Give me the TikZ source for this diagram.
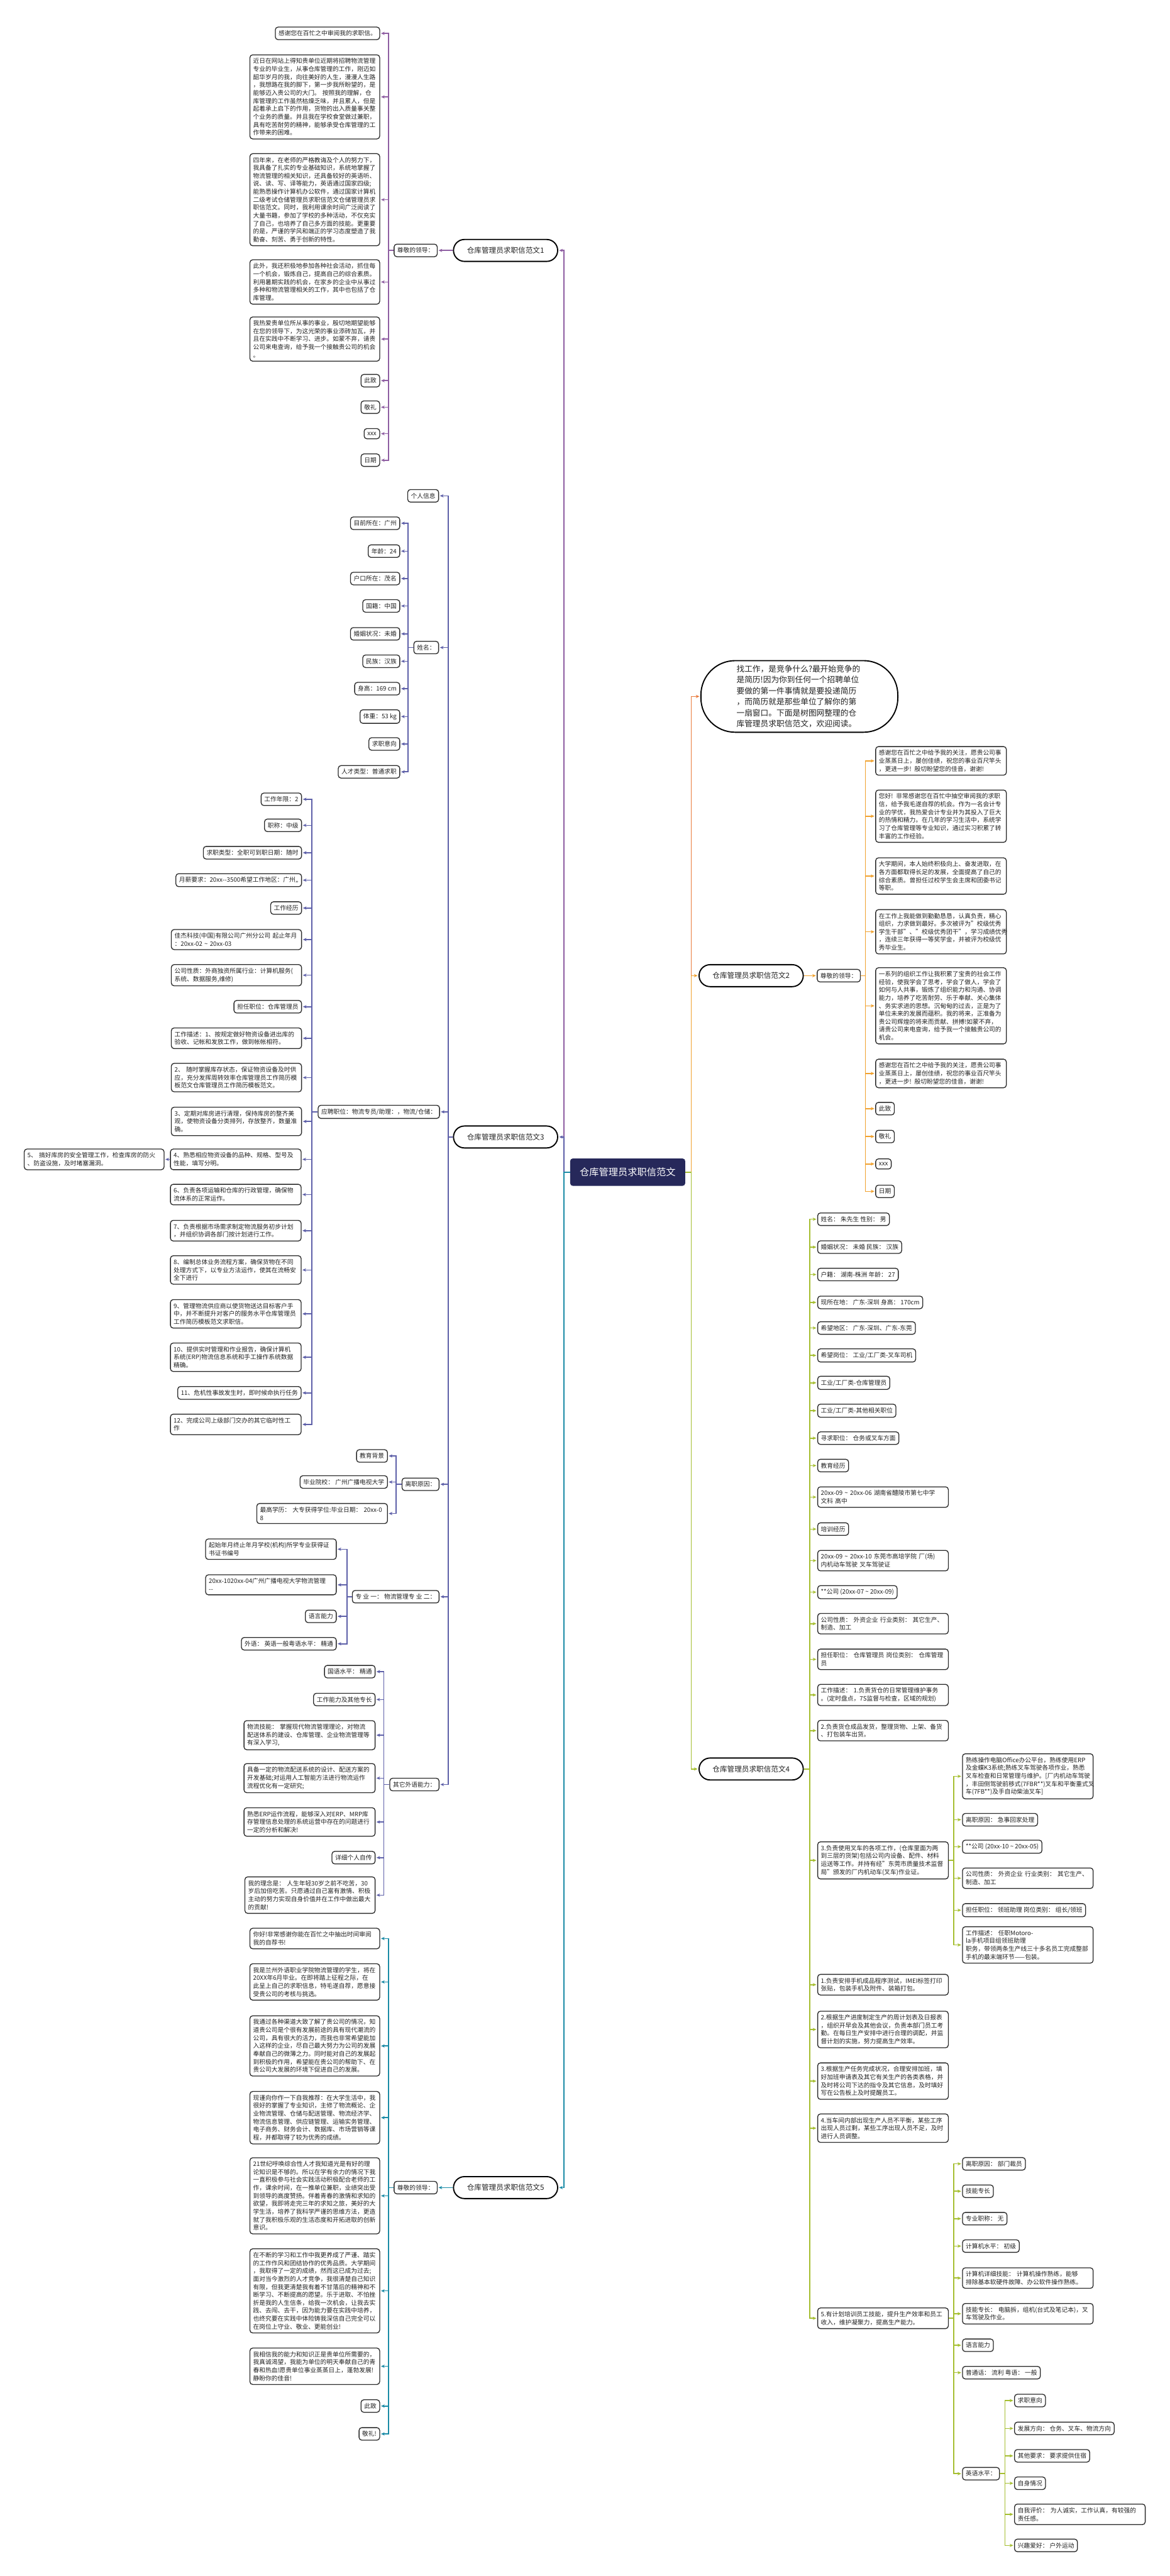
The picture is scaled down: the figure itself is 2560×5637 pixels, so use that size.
\documentclass[tikz,border=0pt]{standalone}
\usepackage{fontspec}
\setmainfont{Noto Sans CJK SC}
\usetikzlibrary{arrows.meta}
\definecolor{cone}{HTML}{8E5EA2}
\definecolor{cthree}{HTML}{5D5FA8}
\definecolor{cfive}{HTML}{1B8BA6}
\definecolor{cintro}{HTML}{E97A3C}
\definecolor{ctwo}{HTML}{F0A12E}
\definecolor{cfour}{HTML}{A5BE30}
\definecolor{navy}{HTML}{26285A}
\definecolor{txt}{HTML}{222222}
\definecolor{btxt}{HTML}{6B4A18}
\definecolor{bord}{HTML}{2A2A2A}
\newcommand\fs{\fontsize{13.4}{17.4}\selectfont}
\newcommand\tild{\textasciitilde}
\tikzset{
 box/.style={draw=bord, line width=1.8pt, rounded corners=6pt, fill=white, inner xsep=7pt, inner ysep=7.5pt, font=\fs, text=txt, align=left},
 pill/.style={draw=black, line width=2.6pt, rounded corners=24pt, fill=white, minimum height=48pt, minimum width=228pt, inner xsep=0pt, font=\fontsize{16}{18}\selectfont, text=txt},
 ctrnode/.style={fill=navy, rounded corners=6pt, minimum width=252pt, minimum height=60pt, text=white, font=\fontsize{21}{24}\selectfont},
 bubble/.style={draw=black, line width=2.6pt, fill=white, rounded corners=75pt, inner xsep=78pt, inner ysep=10pt, text width=275pt, align=left, font=\fontsize{17.5}{24}\selectfont, text=txt},
 conn/.style={line width=2.2pt, -{Stealth[length=8pt,width=7pt]}, shorten >=2pt},
 wide/.style={text width=270pt},
 wider/.style={text width=272pt},
}
\begin{document}
\begin{tikzpicture}[x=1pt,y=-1pt]
\useasboundingbox (0,0) rectangle (2560,5637);
\fill[white] (0,0) rectangle (2560,5637);

% ================= center
\node[ctrnode] (ctr) at (1374,2565) {仓库管理员求职信范文};

% ================= Branch 1
\node[pill,anchor=east] (b1) at (1222,548) {仓库管理员求职信范文1};
\node[box,anchor=east] (b1r) at (958,548) {尊敬的领导：};
\node[box,anchor=east] (a1) at (832,73) {感谢您在百忙之中审阅我的求职信。};
\node[box,anchor=east,wide] (a2) at (832,212) {近日在网站上得知贵单位近期将招聘物流管理\\专业的毕业生，从事仓库管理的工作，刚迈如\\韶华岁月的我，向往美好的人生，漫漫人生路\\，我想路在我的脚下，第一步我所盼望的，是\\能够迈入贵公司的大门。 按照我的理解，仓\\库管理的工作虽然枯燥乏味，并且累人，但是\\起着承上启下的作用，货物的出入质量事关整\\个业务的质量。并且我在学校食堂做过兼职，\\具有吃苦耐劳的精神，能够承受仓库管理的工\\作带来的困难。};
\node[box,anchor=east,wide] (a3) at (832,437) {四年来，在老师的严格教诲及个人的努力下，\\我具备了扎实的专业基础知识，系统地掌握了\\物流管理的相关知识，还具备较好的英语听、\\说、读、写、译等能力，英语通过国家四级;\\能熟悉操作计算机办公软件，通过国家计算机\\二级考试仓储管理员求职信范文仓储管理员求\\职信范文。同时，我利用课余时间广泛阅读了\\大量书籍，参加了学校的多种活动，不仅充实\\了自己，也培养了自己多方面的技能。更重要\\的是，严谨的学风和端正的学习态度塑造了我\\勤奋、刻苦、勇于创新的特性。};
\node[box,anchor=east,wide] (a4) at (832,617) {此外，我还积极地参加各种社会活动，抓住每\\一个机会，锻炼自己，提高自己的综合素质。\\利用暑期实践的机会，在家乡的企业中从事过\\多种和物流管理相关的工作，其中也包括了仓\\库管理。};
\node[box,anchor=east,wide] (a5) at (832,742) {我热爱贵单位所从事的事业，殷切地期望能够\\在您的领导下，为这光荣的事业添砖加瓦，并\\且在实践中不断学习、进步。如蒙不弃，请贵\\公司来电查询，给予我一个接触贵公司的机会\\。};
\node[box,anchor=east] (a6) at (832,833) {此致};
\node[box,anchor=east] (a7) at (832,891) {敬礼};
\node[box,anchor=east] (a8) at (832,949) {xxx};
\node[box,anchor=east] (a9) at (832,1007) {日期};
\draw[conn,cone] (ctr.west) -- ++(-13,0) |- (b1.east);
\draw[conn,cone] (b1.west) -- (b1r.east);
\foreach \n in {a1,a2,a3,a4,a5,a6,a7,a8,a9} \draw[conn,cone] (b1r.west) -- ++(-11,0) |- (\n.east);

% ================= Branch 3
\node[pill,anchor=east] (b3) at (1222,2488) {仓库管理员求职信范文3};
\node[box,anchor=east] (p1) at (961,1085) {个人信息};
\node[box,anchor=east] (p2) at (961,1417) {姓名：};
\node[box,anchor=east] (p3) at (963,2433) {应聘职位：物流专员/助理：，物流/仓储：};
\node[box,anchor=east] (p4) at (962,3248) {离职原因：};
\node[box,anchor=east] (p5) at (962,3494) {专 业 一： 物流管理专 业 二：};
\node[box,anchor=east] (p6) at (962,3905) {其它外语能力：};
\draw[conn,cthree] (ctr.west) -- ++(-13,0) |- (b3.east);
\foreach \n in {p1,p2,p3,p4,p5,p6} \draw[conn,cthree] (b3.west) -- ++(-10,0) |- (\n.east);

\node[box,anchor=east] (q1) at (876,1145) {目前所在：广州};
\node[box,anchor=east] (q2) at (876,1206) {年龄：24};
\node[box,anchor=east] (q3) at (876,1266) {户口所在：茂名};
\node[box,anchor=east] (q4) at (876,1326) {国籍：中国};
\node[box,anchor=east] (q5) at (876,1387) {婚姻状况：未婚};
\node[box,anchor=east] (q6) at (876,1447) {民族：汉族};
\node[box,anchor=east] (q7) at (876,1507) {身高：169 cm};
\node[box,anchor=east] (q8) at (876,1568) {体重：53 kg};
\node[box,anchor=east] (q9) at (876,1628) {求职意向};
\node[box,anchor=east] (q10) at (876,1689) {人才类型：普通求职};
\foreach \n in {q1,q2,q3,q4,q5,q6,q7,q8,q9,q10} \draw[conn,cthree] (p2.west) -- ++(-12,0) |- (\n.east);

\node[box,anchor=east] (s1) at (661,1749) {工作年限：2};
\node[box,anchor=east] (s2) at (661,1806) {职称：中级};
\node[box,anchor=east] (s3) at (661,1866) {求职类型：全职可到职日期：随时};
\node[box,anchor=east] (s4) at (661,1926) {月薪要求：20xx-{}-3500希望工作地区：广州,,};
\node[box,anchor=east] (s5) at (661,1987) {工作经历};
\node[box,anchor=east,text width=271pt] (s6) at (661,2056) {佳杰科技(中国)有限公司广州分公司 起止年月\\：20xx-02 \tild{} 20xx-03};
\node[box,anchor=east,text width=271pt] (s7) at (661,2134) {公司性质：外商独资所属行业：计算机服务(\\系统、数据服务,维修)};
\node[box,anchor=east] (s8) at (661,2203) {担任职位：仓库管理员};
\node[box,anchor=east,text width=271pt] (s9) at (661,2272) {工作描述：1、按规定做好物资设备进出库的\\验收、记帐和发放工作，做到帐帐相符。};
\node[box,anchor=east,text width=271pt] (s10) at (661,2358) {2、 随时掌握库存状态，保证物资设备及时供\\应，充分发挥周转效率仓库管理员工作简历模\\板范文仓库管理员工作简历模板范文。};
\node[box,anchor=east,text width=271pt] (s11) at (661,2454) {3、定期对库房进行清理，保持库房的整齐美\\观，使物资设备分类排列，存放整齐，数量准\\确。};
\node[box,anchor=east,text width=272pt] (s12) at (660,2537) {4、熟悉相应物资设备的品种、规格、型号及\\性能，填写分明。};
\node[box,anchor=east,text width=272pt] (s13) at (660,2614) {6、负责各项运输和仓库的行政管理，确保物\\流体系的正常运作。};
\node[box,anchor=east,text width=272pt] (s14) at (660,2693) {7、负责根据市场需求制定物流服务初步计划\\，并组织协调各部门按计划进行工作。};
\node[box,anchor=east,text width=272pt] (s15) at (660,2779) {8、编制总体业务流程方案，确保货物在不同\\处理方式下，以专业方法运作，使其在流畅安\\全下进行};
\node[box,anchor=east,text width=272pt] (s16) at (660,2875) {9、管理物流供应商以使货物送达目标客户手\\中，并不断提升对客户的服务水平仓库管理员\\工作简历模板范文求职信。};
\node[box,anchor=east,text width=272pt] (s17) at (660,2970) {10、提供实时管理和作业报告，确保计算机\\系统(ERP)物流信息系统和手工操作系统数据\\精确。};
\node[box,anchor=east] (s18) at (660,3048) {11、危机性事故发生时，即时候命执行任务};
\node[box,anchor=east,text width=272pt] (s19) at (660,3117) {12、完成公司上级部门交办的其它临时性工\\作};
\foreach \n in {s1,s2,s3,s4,s5,s6,s7,s8,s9,s10,s11,s12,s13,s14,s15,s16,s17,s18,s19} \draw[conn,cthree] (p3.west) -- ++(-13,0) |- (\n.east);

\node[box,anchor=east,text width=292pt] (fa) at (360,2537) {5、 搞好库房的安全管理工作，检查库房的防火\\、防盗设施，及时堵塞漏洞。};
\draw[conn,cthree] (s12.west) -- (fa.east);

\node[box,anchor=east] (t1) at (849,3186) {教育背景};
\node[box,anchor=east] (t2) at (849,3243) {毕业院校： 广州广播电视大学};
\node[box,anchor=east,text width=272pt] (t3) at (849,3312) {最高学历： 大专获得学位:毕业日期： 20xx-0\\8};
\foreach \n in {t1,t2,t3} \draw[conn,cthree] (p4.west) -- ++(-12,0) |- (\n.east);

\node[box,anchor=east,text width=272pt] (u1) at (737,3390) {起始年月终止年月学校(机构)所学专业获得证\\书证书编号};
\node[box,anchor=east,text width=272pt] (u2) at (737,3468) {20xx-1020xx-04广州广播电视大学物流管理\\-{}-};
\node[box,anchor=east] (u3) at (737,3537) {语言能力};
\node[box,anchor=east] (u4) at (737,3597) {外语： 英语一般粤语水平： 精通};
\foreach \n in {u1,u2,u3,u4} \draw[conn,cthree] (p5.west) -- ++(-11,0) |- (\n.east);

\node[box,anchor=east] (v1) at (822,3658) {国语水平： 精通};
\node[box,anchor=east] (v2) at (822,3719) {工作能力及其他专长};
\node[box,anchor=east,text width=273pt] (v3) at (822,3797) {物流技能： 掌握现代物流管理理论，对物流\\配送体系的建设、仓库管理、企业物流管理等\\有深入学习,};
\node[box,anchor=east,text width=273pt] (v4) at (822,3891) {具备一定的物流配送系统的设计、配送方案的\\开发基础;对运用人工智能方法进行物流运作\\流程优化有一定研究;};
\node[box,anchor=east,text width=273pt] (v5) at (822,3987) {熟悉ERP运作流程，能够深入对ERP、MRP库\\存管理信息处理的系统运营中存在的问题进行\\一定的分析和解决!};
\node[box,anchor=east] (v6) at (822,4065) {详细个人自传};
\node[box,anchor=east,text width=271pt] (v7) at (822,4147) {我的理念是： 人生年轻30岁之前不吃苦，30\\岁后加倍吃苦。只愿通过自己富有激情、积极\\主动的努力实现自身价值并在工作中做出最大\\的贡献!};
\foreach \n in {v1,v2,v3,v4,v5,v6,v7} \draw[conn,cthree] (p6.west) -- ++(-12,0) |- (\n.east);

% ================= Branch 5
\node[pill,anchor=east] (b5) at (1222,4787) {仓库管理员求职信范文5};
\node[box,anchor=east] (b5r) at (958,4787) {尊敬的领导：};
\node[box,anchor=east,wide] (w1) at (832,4242) {你好!非常感谢你能在百忙之中抽出时间审阅\\我的自荐书!};
\node[box,anchor=east,wide] (w2) at (832,4337) {我是兰州外语职业学院物流管理的学生，将在\\20XX年6月毕业。在即将踏上征程之际，在\\此呈上自己的求职信息，特毛遂自荐，愿意接\\受贵公司的考核与挑选。};
\node[box,anchor=east,wide] (w3) at (832,4477) {我通过各种渠道大致了解了贵公司的情况，知\\道贵公司是个很有发展前途的具有现代潮流的\\公司，具有很大的活力，而我也非常希望能加\\入这样的企业，尽自己最大努力为公司的发展\\奉献自己的微薄之力。同时能对自己的发展起\\到积极的作用，希望能在贵公司的帮助下、在\\贵公司大发展的环境下促进自己的发展。};
\node[box,anchor=east,wide] (w4) at (832,4634) {现谨向你作一下自我推荐：在大学生活中，我\\很好的掌握了专业知识，主修了物流概论、企\\业物流管理、仓储与配送管理、物流经济学、\\物流信息管理、供应链管理、运输实务管理、\\电子商务、财务会计、数据库、市场营销等课\\程，并都取得了较为优秀的成绩。};
\node[box,anchor=east,wide] (w5) at (832,4805) {21世纪呼唤综合性人才我知道光是有好的理\\论知识是不够的。所以在学有余力的情况下我\\一直积极参与社会实践活动积极配合老师的工\\作，课余时间，在一推单位兼职，业绩突出受\\到领导的高度赞扬。伴着青春的激情和求知的\\欲望，我即将走完三年的求知之旅，美好的大\\学生活，培养了我科学严谨的思维方法，更造\\就了我积极乐观的生活态度和开拓进取的创新\\意识。};
\node[box,anchor=east,wide] (w6) at (832,5013) {在不断的学习和工作中我更养成了严谨、踏实\\的工作作风和团结协作的优秀品质。大学期间\\，我取得了一定的成绩，然而这已成为过去;\\面对当今激烈的人才竞争，我很清楚自己知识\\有限，但我更清楚我有着不甘落后的精神和不\\断学习、不断提高的愿望。乐于进取、不怕挫\\折是我的人生信条，给我一次机会，让我去实\\践、去闯、去干，因为能力要在实践中培养，\\也终究要在实践中体险铸我深信自己完全可以\\在岗位上守业、敬业、更能创业!};
\node[box,anchor=east,wide] (w7) at (832,5178) {我相信我的能力和知识正是贵单位所需要的，\\我真诚渴望，我能为单位的明天奉献自己的青\\春和热血!愿贵单位事业蒸蒸日上，蓬勃发展!\\静盼你的佳音!};
\node[box,anchor=east] (w8) at (832,5265) {此致};
\node[box,anchor=east] (w9) at (832,5326) {敬礼!};
\draw[conn,cfive] (ctr.west) -- ++(-13,0) |- (b5.east);
\draw[conn,cfive] (b5.west) -- (b5r.east);
\foreach \n in {w1,w2,w3,w4,w5,w6,w7,w8,w9} \draw[conn,cfive] (b5r.west) -- ++(-11,0) |- (\n.east);

% ================= Intro bubble
\node[bubble,anchor=west] (intro) at (1533,1524) {找工作，是竞争什么?最开始竞争的\\是简历!因为你到任何一个招聘单位\\要做的第一件事情就是要投递简历\\，而简历就是那些单位了解你的第\\一扇窗口。下面是树图网整理的仓\\库管理员求职信范文，欢迎阅读。};
\draw[conn,cintro] (ctr.east) -- ++(13,0) |- (intro.west);

% ================= Branch 2
\node[pill,anchor=west] (b2) at (1529,2135) {仓库管理员求职信范文2};
\node[box,anchor=west] (b2r) at (1788,2135) {尊敬的领导：};
\begin{scope}[every node/.append style={text=btxt}]
\node[box,anchor=west,wider] (r1) at (1916,1665) {感谢您在百忙之中给予我的关注，愿贵公司事\\业蒸蒸日上，屡创佳绩，祝您的事业百尺竿头\\，更进一步! 殷切盼望您的佳音，谢谢!};
\node[box,anchor=west,wider] (r2) at (1916,1786) {您好! 非常感谢您在百忙中抽空审阅我的求职\\信，给予我毛遂自荐的机会。作为一名会计专\\业的学优，我热爱会计专业并为其投入了巨大\\的热情和精力。在几年的学习生活中，系统学\\习了仓库管理等专业知识，通过实习积累了转\\丰富的工作经验。};
\node[box,anchor=west,wider] (r3) at (1916,1917) {大学期间，本人始终积极向上、奋发进取，在\\各方面都取得长足的发展，全面提高了自己的\\综合素质。曾担任过校学生会主席和团委书记\\等职。};
\node[box,anchor=west,wider] (r4) at (1916,2039) {在工作上我能做到勤勤恳恳，认真负责，精心\\组织，力求做到最好。多次被评为"校级优秀\\学生干部"、"校级优秀团干"，学习成绩优秀\\，连续三年获得一等奖学金，并被评为校级优\\秀毕业生。};
\node[box,anchor=west,wider] (r5) at (1916,2201) {一系列的组织工作让我积累了宝贵的社会工作\\经验，使我学会了思考，学会了做人，学会了\\如何与人共事，锻炼了组织能力和沟通、协调\\能力，培养了吃苦耐劳、乐于奉献、关心集体\\、务实求进的思想。沉甸甸的过去，正是为了\\单位未来的发展而蕴积。我的将来，正准备为\\贵公司辉煌的将来而贡献、拼搏!如蒙不弃，\\请贵公司来电查询，给予我一个接触贵公司的\\机会。};
\node[box,anchor=west,wider] (r6) at (1916,2349) {感谢您在百忙之中给予我的关注，愿贵公司事\\业蒸蒸日上，屡创佳绩，祝您的事业百尺竿头\\，更进一步! 殷切盼望您的佳音，谢谢!};
\node[box,anchor=west] (r7) at (1916,2426) {此致};
\node[box,anchor=west] (r8) at (1916,2487) {敬礼};
\node[box,anchor=west] (r9) at (1916,2547) {xxx};
\node[box,anchor=west] (r10) at (1916,2607) {日期};
\end{scope}
\draw[conn,ctwo] (ctr.east) -- ++(13,0) |- (b2.west);
\draw[conn,ctwo] (b2.east) -- (b2r.west);
\foreach \n in {r1,r2,r3,r4,r5,r6,r7,r8,r9,r10} \draw[conn,ctwo] (b2r.east) -- ++(10,0) |- (\n.west);

% ================= Branch 4
\node[pill,anchor=west] (b4) at (1529,3871) {仓库管理员求职信范文4};
\node[box,anchor=west] (g1) at (1789,2668) {姓名： 朱先生 性别： 男};
\node[box,anchor=west] (g2) at (1789,2729) {婚姻状况： 未婚 民族： 汉族};
\node[box,anchor=west] (g3) at (1789,2789) {户籍： 湖南-株洲 年龄： 27};
\node[box,anchor=west] (g4) at (1789,2850) {现所在地： 广东-深圳 身高： 170cm};
\node[box,anchor=west] (g5) at (1789,2906) {希望地区： 广东-深圳、广东-东莞};
\node[box,anchor=west] (g6) at (1789,2966) {希望岗位： 工业/工厂类-叉车司机};
\node[box,anchor=west] (g7) at (1789,3026) {工业/工厂类-仓库管理员};
\node[box,anchor=west] (g8) at (1789,3087) {工业/工厂类-其他相关职位};
\node[box,anchor=west] (g9) at (1789,3147) {寻求职位： 仓务或叉车方面};
\node[box,anchor=west] (g10) at (1789,3207) {教育经历};
\node[box,anchor=west,wider] (g11) at (1789,3276) {20xx-09 \tild{} 20xx-06 湖南省醴陵市第七中学\\文科 高中};
\node[box,anchor=west] (g12) at (1789,3346) {培训经历};
\node[box,anchor=west,wider] (g13) at (1789,3415) {20xx-09 \tild{} 20xx-10 东莞市高培学院 厂(场)\\内机动车驾驶 叉车驾驶证};
\node[box,anchor=west] (g14) at (1789,3484) {**公司 (20xx-07 \tild{} 20xx-09)};
\node[box,anchor=west,wider] (g15) at (1789,3553) {公司性质： 外资企业 行业类别： 其它生产、\\制造、加工};
\node[box,anchor=west,wider] (g16) at (1789,3631) {担任职位： 仓库管理员 岗位类别： 仓库管理\\员};
\node[box,anchor=west,wider] (g17) at (1789,3709) {工作描述： 1.负责货仓的日常管理维护事务\\。(定时盘点，7S监督与检查，区域的规划)};
\node[box,anchor=west,wider] (g18) at (1789,3787) {2.负责货仓成品发货，整理货物、上架、备货\\、打包装车出货。};
\node[box,anchor=west,wider] (g19) at (1789,4071) {3.负责使用叉车的各项工作，(仓库里面为两\\到三层的货架)包括公司内设备、配件、材料\\运送等工作。并持有经"东莞市质量技术监督\\局"颁发的厂内机动车(叉车)作业证。};
\node[box,anchor=west,wider] (g20) at (1789,4343) {1.负责安排手机成品程序测试，IMEI标签打印\\张贴，包装手机及附件、装箱打包。};
\node[box,anchor=west,wider] (g21) at (1789,4441) {2.根据生产进度制定生产的周计划表及日报表\\，组织开早会及其他会议，负责本部门员工考\\勤。在每日生产安排中进行合理的调配，并监\\督计划的实施，努力提高生产效率。};
\node[box,anchor=west,wider] (g22) at (1789,4554) {3.根据生产任务完成状况，合理安排加班，填\\好加班申请表及其它有关生产的各类表格，并\\及时将公司下达的指令及其它信息，及时填好\\写在公告板上及时提醒员工。};
\node[box,anchor=west,wider] (g23) at (1789,4657) {4.当车间内部出现生产人员不平衡，某些工序\\出现人员过剩，某些工序出现人员不足，及时\\进行人员调整。};
\node[box,anchor=west,wider] (g24) at (1789,5073) {5.有计划培训员工技能，提升生产效率和员工\\收入，维护凝聚力，提高生产能力。};
\draw[conn,cfour] (ctr.east) -- ++(13,0) |- (b4.west);
\foreach \n in {g1,g2,g3,g4,g5,g6,g7,g8,g9,g10,g11,g12,g13,g14,g15,g16,g17,g18,g19,g20,g21,g22,g23,g24} \draw[conn,cfour] (b4.east) -- ++(13,0) |- (\n.west);

\node[box,anchor=west,wider] (h1) at (2106,3887) {熟练操作电脑Office办公平台，熟练使用ERP\\及金蝶K3系统;熟练叉车驾驶各项作业，熟悉\\叉车检查和日常管理与维护。[厂内机动车驾驶\\，丰田侧驾驶前移式(7FBR**)叉车和平衡重式叉\\车(7FB**)及手自动柴油叉车]};
\node[box,anchor=west] (h2) at (2106,3982) {离职原因： 急事回家处理};
\node[box,anchor=west] (h3) at (2106,4041) {**公司 (20xx-10 \tild{} 20xx-05)};
\node[box,anchor=west,wider] (h4) at (2106,4110) {公司性质： 外资企业 行业类别： 其它生产、\\制造、加工};
\node[box,anchor=west] (h5) at (2106,4180) {担任职位： 领班助理 岗位类别： 组长/领班};
\node[box,anchor=west,wider] (h6) at (2106,4256) {工作描述： 任职Motorola手机项目组领班助理\\职务，带领两条生产线三十多名员工完成整部\\手机的最末端环节——包装。};
\foreach \n in {h1,h2,h3,h4,h5,h6} \draw[conn,cfour] (g19.east) -- ++(11,0) |- (\n.west);

\node[box,anchor=west] (k1) at (2106,4735) {离职原因： 部门裁员};
\node[box,anchor=west] (k2) at (2106,4795) {技能专长};
\node[box,anchor=west] (k3) at (2106,4855) {专业职称： 无};
\node[box,anchor=west] (k4) at (2106,4915) {计算机水平： 初级};
\node[box,anchor=west,wider] (k5) at (2106,4985) {计算机详细技能： 计算机操作熟练，能够\\排除基本软硬件故障、办公软件操作熟练。};
\node[box,anchor=west,wider] (k6) at (2106,5063) {技能专长： 电脑拆，组机(台式及笔记本)，叉\\车驾驶及作业。};
\node[box,anchor=west] (k7) at (2106,5132) {语言能力};
\node[box,anchor=west] (k8) at (2106,5192) {普通话： 流利 粤语： 一般};
\node[box,anchor=west] (k9) at (2106,5413) {英语水平：};
\foreach \n in {k1,k2,k3,k4,k5,k6,k7,k8,k9} \draw[conn,cfour] (g24.east) -- ++(11,0) |- (\n.west);

\node[box,anchor=west] (m1) at (2220,5253) {求职意向};
\node[box,anchor=west] (m2) at (2220,5314) {发展方向： 仓务、叉车、物流方向};
\node[box,anchor=west] (m3) at (2220,5374) {其他要求： 要求提供住宿};
\node[box,anchor=west] (m4) at (2220,5434) {自身情况};
\node[box,anchor=west,text width=272pt] (m5) at (2220,5502) {自我评价： 为人诚实，工作认真，有较强的\\责任感。};
\node[box,anchor=west] (m6) at (2220,5570) {兴趣爱好： 户外运动};
\foreach \n in {m1,m2,m3,m4,m5,m6} \draw[conn,cfour] (k9.east) -- ++(11,0) |- (\n.west);

\end{tikzpicture}
\end{document}
